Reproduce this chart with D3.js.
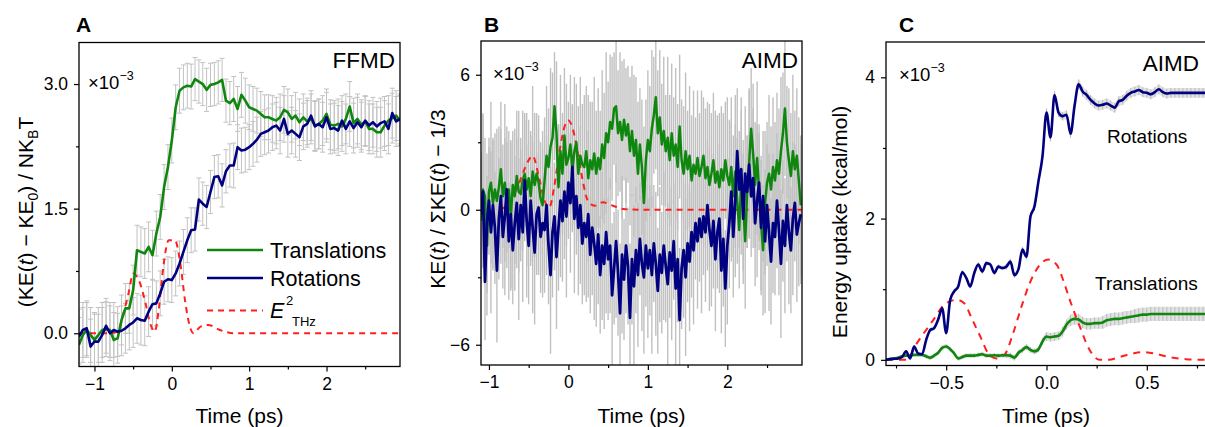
<!DOCTYPE html>
<html><head><meta charset="utf-8">
<script src="https://cdn.jsdelivr.net/npm/d3@7"></script>
<style>
body{margin:0;background:#fff;}
svg{display:block;font-family:"Liberation Sans",Arial,sans-serif;}
</style></head><body>
<svg id="chart" width="1205" height="427"></svg>
<script>
// ---------------- DATA ----------------
// Panel A (FFMD): time grid start/step
const aStart = -1.2, aStep = 0.05;
const aTrans = [-0.14,-0.02,0.04,-0.02,-0.08,-0.02,0.04,0.05,0.04,-0.08,
 -0.06,0.16,0.3,0.3,0.52,1.0,0.98,0.96,1.04,0.94,
 1.2,1.4,1.76,2.0,2.32,2.72,2.92,2.96,2.98,2.97,
 3.06,3.03,3.0,2.93,2.99,3.0,3.02,3.05,2.8,2.77,
 2.82,2.7,2.87,2.8,2.72,2.7,2.68,2.64,2.6,2.6,
 2.58,2.56,2.6,2.69,2.66,2.58,2.62,2.54,2.6,2.55,
 2.58,2.5,2.52,2.56,2.64,2.51,2.5,2.52,2.49,2.58,
 2.73,2.53,2.58,2.51,2.55,2.46,2.46,2.42,2.42,2.5,
 2.56,2.59,2.62,2.56];
const aRot = [-0.04,0.04,0.06,-0.16,-0.1,-0.1,-0.02,0.09,0,0.04,
 0.02,0.03,0.06,0.1,0.13,0.18,0.16,0.15,0.26,0.35,
 0.36,0.48,0.62,0.65,0.64,0.72,0.84,0.98,1.12,1.24,
 1.25,1.61,1.56,1.52,1.7,1.88,1.89,1.78,1.95,2.02,
 2.02,2.24,2.2,2.21,2.24,2.28,2.33,2.4,2.42,2.44,
 2.48,2.5,2.44,2.58,2.4,2.44,2.4,2.36,2.49,2.52,
 2.62,2.49,2.52,2.48,2.6,2.46,2.47,2.44,2.56,2.46,
 2.55,2.47,2.54,2.48,2.56,2.5,2.54,2.49,2.53,2.55,
 2.46,2.65,2.55,2.58];
const aErr = [0.33,0.33,0.33,0.33,0.33,0.33,0.33,0.33,0.33,0.33,
 0.3,0.3,0.3,0.3,0.3,0.3,0.3,0.3,0.3,0.3,
 0.27,0.27,0.27,0.27,0.27,0.27,0.27,0.27,0.27,0.27,
 0.26,0.26,0.26,0.26,0.26,0.26,0.26,0.26,0.26,0.26,
 0.27,0.27,0.27,0.27,0.27,0.27,0.27,0.27,0.27,0.27,
 0.28,0.28,0.28,0.28,0.28,0.28,0.28,0.28,0.28,0.28,
 0.3,0.3,0.3,0.3,0.3,0.3,0.3,0.3,0.3,0.3,
 0.3,0.3,0.3,0.3,0.3,0.3,0.3,0.3,0.3,0.3,
 0.3,0.3,0.3,0.3];
const aFieldT = [-1.2,-0.8,-0.7,-0.625,-0.56,-0.5,-0.41,-0.34,-0.28,-0.22,-0.17,-0.11,-0.04,0.04,0.11,0.17,0.24,0.28,0.37,0.47,0.62,0.8,2.95];
const aFieldV = [0,0,0.02,0.24,0.48,0.72,0.6,0.36,0.12,0.02,0.28,0.8,1.12,1.12,0.84,0.4,0.06,0,0.08,0.1,0.04,0,0];

// Panel B (AIMD ratios)
const bStart = -1.1, bStep = 0.025;
const bTrans = [-0.5,0.9,0.6,-1.6, 0.8,1.2,0.3,0.9, 0.4,1.0,1.8,0.6, 1.2,0.2,0.9,-0.3,
 1.1,0.6,1.5,0.8, 0.7,1.3,1.6,0.9, 1.4,0.6,1.7,1.1, 1.6,1.2,0.5,0.2,
 1.3,2.4,1.9,2.8, 3.2,4.6,3.4,1.0, 2.6,1.6,3.3,2.0, 2.3,2.9,1.8,2.6,
 3.0,1.6,2.4,2.0, 1.9,2.6,1.4,2.2, 1.8,2.5,1.6,2.3, 1.8,2.9,2.3,3.4,
 3.0,3.9,3.6,4.5, 4.6,3.4,3.9,3.1, 4.0,3.3,3.8,2.6, 3.5,2.4,3.1,1.6,
 2.9,1.9,0.3,2.2, 3.1,2.6,3.6,4.2, 5.0,3.4,4.1,2.9, 3.5,2.6,3.2,2.2,
 3.4,2.4,2.9,1.9, 3.7,2.2,1.6,2.6, 1.8,2.4,1.3,2.0, 1.6,2.3,1.5,1.9,
 2.4,1.4,1.9,1.1, 1.6,2.2,1.2,1.7, 1.0,1.8,1.3,2.2, 1.5,1.1,1.9,0.6,
 1.7,0.4,-0.9,1.2, 0.2,-1.4,0.8,2.1, 3.6,2.5,1.1,2.3, 0.8,-0.6,-1.8,0.3,
 1.2,1.6,0.9,1.9, 1.3,2.2,1.6,2.6, 3.4,4.5,3.0,2.2, 1.5,2.6,1.8,2.4,
 1.3,0.2];
const bRot = [-0.2,0.8,-3.2,-0.6, 0.4,-1.0,0.2,-0.8, -2.7,-0.4,0.6,-1.2, -0.3,0.9,-1.4,-0.2,
 -1.8,-0.6,0.3,-1.3, 0.2,-1.0,1.3,-0.5, -1.6,0.4,-0.8,-1.9, -0.2,0.1,-1.2,-0.6,
 -0.9,0.2,-1.6,-2.9, -1.0,-0.3,-2.1,-0.8, 0.4,-0.5,0.8,-0.3, 1.2,0.3,1.9,-0.4,
 0.6,-0.8,0.2,-1.5, -0.6,-1.2,-0.2,-2.0, -0.8,-1.5,-2.4,-1.1, -2.9,-1.6,-2.4,-1.0,
 -2.2,-1.6,-3.8,-2.6, -1.4,-2.8,-4.6,-2.0, -3.1,-1.6,-2.5,-4.8, -2.2,-3.4,-1.8,-2.9,
 -1.3,-2.4,-3.0,-1.6, -2.6,-1.8,-2.9,-1.5, -2.4,-3.6,-2.0,-2.8, -1.6,-2.5,-3.3,-1.9,
 -2.7,-1.4,-3.5,-2.2, -4.9,-2.6,-1.8,-3.0, -1.5,-2.3,-1.0,-1.8, -0.6,-1.4,-0.4,-1.2,
 -0.3,-1.0,0.2,-0.9, -1.6,-0.5,-2.2,-1.0, -0.4,-2.7,-1.3,-3.5, -1.6,-0.6,0.8,-1.2,
 0.4,2.6,0.9,1.8, -0.4,1.6,0.8,2.0, 0.6,1.4,-0.6,0.4, 1.2,-0.8,0.6,-1.4,
 0.2,-1.0,-2.3,-0.6, -1.2,0.4,-0.9,-2.4, -0.5,-1.6,0.2,-1.0, -1.8,-0.4,0.3,-1.1,
 -0.6,-0.2];
const bErr = [2.8,3.4,2.6,3.1,2.4,3.6,2.9,2.5,3.2,2.7,
 3.0,2.3,3.5,2.8,2.6,3.3,2.4,3.0,2.9,3.6,
 2.5,3.1,2.7,3.4,2.6,2.9,3.8,3.2,2.7,3.0,
 2.5,3.3,2.8,3.1,2.6,3.5,2.9,2.4,3.2,2.8,
 3.4,2.7,3.0,3.6,2.5,3.1,2.8,3.3,2.6,3.0,
 3.5,2.7,3.2,2.9,3.7,2.6,3.0,3.4,2.8,3.1,
 2.6,3.3,2.9,3.6,2.7,3.0,3.2,2.5,3.4,2.8,
 3.1,3.5,2.7,3.0,2.6,3.3,2.9,3.6,2.8,3.2,
 2.5,3.0,3.4,2.7,3.1,2.9,3.5,2.6,3.2,2.8,
 3.0,2.7,3.3,2.5,3.6,2.9,3.1,2.6,3.4,2.8,
 3.2,2.7,3.0,3.5,2.6,3.1,2.9,3.3,2.5,3.0,
 2.8,3.4,2.6,3.1,2.9,3.6,2.7,3.0,3.2,2.5,
 3.3,2.8,3.0,2.6,3.5,2.9,3.1,2.7,3.4,2.8,
 2.6,3.2,2.9,3.0,2.5,3.3,2.7,3.1,2.8,3.4,
 2.6,3.0,2.9,3.2,2.7,3.5,2.8,3.1,2.6,3.0,
 2.9,3.3,2.7,3.0,2.5,3.2,2.8,3.4,2.6,3.0,
 2.8,3.1];
const bFieldT = [-0.85,-0.73,-0.64,-0.56,-0.49,-0.45,-0.37,-0.3,-0.24,-0.18,-0.11,-0.05,0,0.055,0.12,0.18,0.245,0.33,0.43,0.56,0.69,0.9,2.94];
const bFieldV = [0,0.4,1.0,1.74,2.26,2.4,1.44,0.4,0.1,1.0,2.63,3.67,3.97,3.6,2.5,1.3,0.4,0.18,0.33,0.18,0.03,0,0];

// Panel C (AIMD energy uptake)
const cStart = -0.8, cStep = 0.02;
const cRot = [0,0.01,0.015,0.02,0.04,0.12,0.02,0.19,0.09,0.08,
 0.28,0.42,0.45,0.57,0.73,0.38,0.85,0.97,1.04,1.24,
 1.16,1.04,1.23,1.35,1.25,1.37,1.35,1.23,1.32,1.3,
 1.32,1.39,1.2,1.28,1.56,1.46,2.03,2.17,2.53,2.88,
 3.5,3.15,3.75,3.5,3.45,3.47,3.2,3.6,3.9,3.8,
 3.75,3.68,3.63,3.6,3.61,3.63,3.6,3.57,3.66,3.68,
 3.74,3.78,3.8,3.82,3.79,3.78,3.76,3.79,3.83,3.79,
 3.77,3.78,3.78,3.78,3.78,3.78,3.78,3.78,3.78,3.78,3.78];
const cTrans = [0,0.01,0.02,0.03,0.05,0.06,0.06,0.07,0.07,0.07,
 0.05,0.03,0.06,0.1,0.17,0.19,0.15,0.09,0.02,0.04,
 0.06,0.06,0.06,0.07,0.08,0.06,0.06,0.065,0.06,0.065,
 0.066,0.06,0.03,0.1,0.14,0.18,0.14,0.12,0.15,0.26,
 0.33,0.32,0.33,0.34,0.4,0.5,0.56,0.58,0.57,0.53,
 0.51,0.51,0.52,0.52,0.53,0.56,0.57,0.58,0.58,0.59,
 0.6,0.61,0.62,0.63,0.64,0.64,0.65,0.65,0.65,0.65,
 0.65,0.65,0.65,0.65,0.65,0.65,0.65,0.65,0.65,0.65,0.65];
const cRotErr = [0.02,0.02,0.02,0.02,0.02,0.02,0.02,0.02,0.02,0.02,
 0.03,0.03,0.03,0.03,0.03,0.03,0.03,0.03,0.03,0.03,
 0.03,0.03,0.03,0.03,0.03,0.03,0.03,0.03,0.03,0.03,
 0.04,0.04,0.04,0.04,0.04,0.04,0.05,0.05,0.05,0.05,
 0.06,0.06,0.06,0.06,0.06,0.06,0.06,0.06,0.07,0.07,
 0.07,0.07,0.07,0.07,0.07,0.07,0.07,0.07,0.07,0.07,
 0.07,0.07,0.07,0.07,0.07,0.07,0.07,0.07,0.07,0.07,
 0.07,0.07,0.07,0.07,0.07,0.07,0.07,0.07,0.07,0.07,0.07];
const cTransErr = [0.02,0.02,0.02,0.02,0.02,0.02,0.02,0.02,0.02,0.02,
 0.03,0.03,0.03,0.03,0.03,0.03,0.03,0.03,0.03,0.03,
 0.03,0.03,0.03,0.03,0.03,0.03,0.03,0.03,0.03,0.03,
 0.04,0.04,0.04,0.04,0.04,0.04,0.04,0.04,0.04,0.05,
 0.06,0.06,0.06,0.06,0.07,0.07,0.08,0.08,0.08,0.08,
 0.08,0.08,0.08,0.08,0.09,0.09,0.09,0.09,0.09,0.09,
 0.09,0.09,0.1,0.1,0.1,0.1,0.1,0.1,0.1,0.1,
 0.1,0.1,0.1,0.1,0.1,0.1,0.1,0.1,0.1,0.1,0.1];
const cFieldT = [-0.8,-0.7,-0.645,-0.563,-0.51,-0.447,-0.41,-0.37,-0.33,-0.29,-0.25,-0.21,-0.166,-0.124,-0.083,-0.04,0.008,0.05,0.083,0.116,0.166,0.215,0.265,0.31,0.364,0.43,0.48,0.546,0.61,0.695,0.8];
const cFieldV = [0,0,0.24,0.57,0.78,0.85,0.8,0.57,0.33,0.09,0.02,0.07,0.38,0.76,1.09,1.32,1.42,1.35,1.13,0.85,0.47,0.14,0,0,0.04,0.09,0.11,0.085,0.04,0.01,0];

// Tick values
const abXMajor = [-1,0,1,2], abXMinor = [-0.5,0.5,1.5,2.5];
const aYMajor = [0,1.5,3], aYMinor = [0.75,2.25];
const bYMajor = [-6,0,6], bYMinor = [-3,3];
const cXMajor = [-0.5,0,0.5], cXMinor = [-0.75,-0.25,0.25,0.75];
const cYMajor = [0,2,4], cYMinor = [1,3];

// ---------------- DRAWING ----------------
const svg = d3.select("#chart");
const GREEN = "#0f870f", BLUE = "#000080", RED = "#ff1f1f", GRAY = "#c2c2c2";
const TICKFS = "17.5px";

function series(start, step, vals, errs){
  return vals.map((v,i)=>({t: start + i*step, v: v, e: errs ? errs[i] : 0}));
}

function makePanel(p){
  const x = d3.scaleLinear().domain(p.xd).range(p.xr);
  const y = d3.scaleLinear().domain(p.yd).range(p.yr);
  const g = svg.append("g");
  const cid = "clip" + p.id;
  svg.append("clipPath").attr("id", cid).append("rect")
    .attr("x", p.xr[0]).attr("y", p.yr[1])
    .attr("width", p.xr[1]-p.xr[0]).attr("height", p.yr[0]-p.yr[1]);
  const plot = g.append("g").attr("clip-path", `url(#${cid})`);

  const fmtX = p.xfmt || d3.format("d");
  const fmtY = p.yfmt || d3.format("d");
  g.append("g").attr("transform", `translate(0,${p.yr[0]})`)
    .call(d3.axisBottom(x).tickValues(p.xMajor).tickFormat(fmtX).tickSize(5).tickPadding(6).tickSizeOuter(0));
  g.append("g").attr("transform", `translate(0,${p.yr[0]})`)
    .call(d3.axisBottom(x).tickValues(p.xMinor).tickFormat("").tickSize(3).tickSizeOuter(0));
  g.append("g").attr("transform", `translate(${p.xr[0]},0)`)
    .call(d3.axisLeft(y).tickValues(p.yMajor).tickFormat(fmtY).tickSize(5).tickPadding(6).tickSizeOuter(0));
  g.append("g").attr("transform", `translate(${p.xr[0]},0)`)
    .call(d3.axisLeft(y).tickValues(p.yMinor).tickFormat("").tickSize(3).tickSizeOuter(0));
  g.selectAll(".domain").remove();
  g.selectAll(".tick line").attr("stroke", "#000").attr("stroke-width", 1.2);
  g.selectAll(".tick text").attr("font-size", TICKFS).attr("fill", "#000")
    .attr("font-family", '"Liberation Sans",Arial,sans-serif');

  g.append("rect").attr("x", p.xr[0]).attr("y", p.yr[1])
    .attr("width", p.xr[1]-p.xr[0]).attr("height", p.yr[0]-p.yr[1])
    .attr("fill", "none").attr("stroke", "#000").attr("stroke-width", 1.3);

  return {x, y, g, plot};
}

function errorBars(P, data, opts){
  const sel = P.plot.append("g");
  sel.selectAll("line.eb").data(data).join("line")
    .attr("x1", d=>P.x(d.t)).attr("x2", d=>P.x(d.t))
    .attr("y1", d=>P.y(d.v - d.e)).attr("y2", d=>P.y(d.v + d.e))
    .attr("stroke", opts.color || GRAY).attr("stroke-width", opts.w || 1);
  if (opts.cap){
    [-1,1].forEach(s=>{
      sel.selectAll(null).data(data).join("line")
        .attr("x1", d=>P.x(d.t)-opts.cap).attr("x2", d=>P.x(d.t)+opts.cap)
        .attr("y1", d=>P.y(d.v + s*d.e)).attr("y2", d=>P.y(d.v + s*d.e))
        .attr("stroke", opts.color || GRAY).attr("stroke-width", 1);
    });
  }
}

function band(P, data, color){
  P.plot.append("path").datum(data)
    .attr("d", d3.area().x(d=>P.x(d.t)).y0(d=>P.y(d.v-d.e)).y1(d=>P.y(d.v+d.e)).curve(d3.curveMonotoneX))
    .attr("fill", color).attr("stroke", "none");
}

function line(P, data, color, w, dash, curve){
  P.plot.append("path").datum(data)
    .attr("d", d3.line().x(d=>P.x(d.t)).y(d=>P.y(d.v)).curve(curve || d3.curveLinear))
    .attr("fill", "none").attr("stroke", color).attr("stroke-width", w)
    .attr("stroke-linejoin", "round").attr("stroke-linecap", "butt")
    .attr("stroke-dasharray", dash || null);
}

function fieldData(ts, vs){ return ts.map((t,i)=>({t:t, v:vs[i]})); }

function txt(x, y, s, opts){
  return svg.append("text").attr("x", x).attr("y", y)
    .attr("font-size", opts.fs).attr("fill", "#000")
    .attr("text-anchor", opts.anchor || "start")
    .attr("font-weight", opts.bold ? "bold" : null)
    .text(s);
}

function times10(x, y){
  const t = svg.append("text").attr("x", x).attr("y", y).attr("font-size", "18.5px").attr("fill", "#000");
  t.append("tspan").text("×10");
  t.append("tspan").attr("dy", -9).attr("font-size", "12.5px").text("−3");
}

// ----- Panel A -----
const A = makePanel({id:"A", xd:[-1.2,2.95], xr:[79,400], yd:[-0.4,3.5], yr:[366.5,42.5],
  xMajor:abXMajor, xMinor:abXMinor, yMajor:aYMajor, yMinor:aYMinor, yfmt:d3.format(".1f")});
const aT = series(aStart, aStep, aTrans, aErr);
const aR = series(aStart, aStep, aRot, aErr);
errorBars(A, aT, {cap:2.5});
errorBars(A, aR, {cap:2.5});
line(A, fieldData(aFieldT, aFieldV), RED, 2, "6,5", d3.curveMonotoneX);
line(A, aT, GREEN, 2.6);
line(A, aR, BLUE, 2.6);

// ----- Panel B -----
const B = makePanel({id:"B", xd:[-1.1,2.94], xr:[481,802], yd:[-6.9,7.5], yr:[365,41],
  xMajor:abXMajor, xMinor:abXMinor, yMajor:bYMajor, yMinor:bYMinor});
const bT = series(bStart, bStep, bTrans, bErr);
const bR = series(bStart, bStep, bRot, bErr);
errorBars(B, bT, {w:1.4, color:"#c0c0c0"});
errorBars(B, bR, {w:1.4, color:"#c0c0c0"});
line(B, fieldData(bFieldT, bFieldV), RED, 2, "6,5", d3.curveMonotoneX);
line(B, bT, GREEN, 2.5);
line(B, bR, BLUE, 2.8);

// ----- Panel C -----
const C = makePanel({id:"C", xd:[-0.8,0.8], xr:[886,1207], yd:[-0.08,4.5], yr:[365.5,42],
  xMajor:cXMajor, xMinor:cXMinor, yMajor:cYMajor, yMinor:cYMinor, xfmt:d3.format(".1f")});
const cT = series(cStart, cStep, cTrans, cTransErr);
const cR = series(cStart, cStep, cRot, cRotErr);
band(C, cT, "#e2e2e2"); band(C, cR, "#e2e2e2");
errorBars(C, cT, {w:1, color:"#bcbcbc"});
errorBars(C, cR, {w:1, color:"#bcbcbc"});
line(C, fieldData(cFieldT, cFieldV), RED, 2, "7,6", d3.curveMonotoneX);
line(C, cT, GREEN, 2.6, null, d3.curveMonotoneX);
line(C, cR, BLUE, 2.6, null, d3.curveMonotoneX);

// ----- Texts -----
txt(76, 32, "A", {fs:"21px", bold:true});
txt(484, 32, "B", {fs:"21px", bold:true});
txt(899, 32, "C", {fs:"21px", bold:true});

txt(395, 68, "FFMD", {fs:"22.5px", anchor:"end"});
txt(798, 68, "AIMD", {fs:"22.5px", anchor:"end"});
txt(1199, 71, "AIMD", {fs:"22.5px", anchor:"end"});

times10(88, 89);
times10(493, 80);
times10(899, 81);

[239.5, 641.5, 1046].forEach(cx=>{
  txt(cx, 423, "Time (ps)", {fs:"21px", anchor:"middle"});
});

function yTitle(cx, cy, parts){
  const t = svg.append("text").attr("transform", `translate(${cx},${cy}) rotate(-90)`)
    .attr("text-anchor", "middle").attr("font-size", "21px").attr("fill", "#000");
  parts.forEach(p=>{
    const s = t.append("tspan").text(p.s);
    if (p.it) s.attr("font-style", "italic");
    if (p.dy) s.attr("dy", p.dy);
    if (p.fs) s.attr("font-size", p.fs);
  });
}
yTitle(33, 212, [{s:"(KE("},{s:"t",it:1},{s:") − KE"},{s:"0",dy:5,fs:"14px"},{s:") / NK",dy:-5},{s:"B",dy:5,fs:"14px"},{s:"T",dy:-5}]);
yTitle(445, 199, [{s:"KE("},{s:"t",it:1},{s:") / ΣKE("},{s:"t",it:1},{s:") − 1/3"}]);
yTitle(847, 222, [{s:"Energy uptake (kcal/mol)"}]);

// Legend A
const lg = svg.append("g");
lg.append("line").attr("x1",207).attr("x2",263).attr("y1",250).attr("y2",250).attr("stroke",GREEN).attr("stroke-width",2.6);
lg.append("line").attr("x1",207).attr("x2",263).attr("y1",278).attr("y2",278).attr("stroke",BLUE).attr("stroke-width",2.6);
lg.append("line").attr("x1",207).attr("x2",263).attr("y1",310.5).attr("y2",310.5).attr("stroke",RED).attr("stroke-width",2).attr("stroke-dasharray","6,5");
txt(270, 258, "Translations", {fs:"21.5px"});
txt(270, 286, "Rotations", {fs:"21.5px"});
txt(270, 318, "E", {fs:"21.5px"}).attr("font-style","italic");
txt(286, 305, "2", {fs:"13px"});
txt(292, 326, "THz", {fs:"13px"});

// Labels in C
txt(1107, 143, "Rotations", {fs:"19px"});
txt(1095, 290, "Translations", {fs:"19px"});
</script>
</body></html>
